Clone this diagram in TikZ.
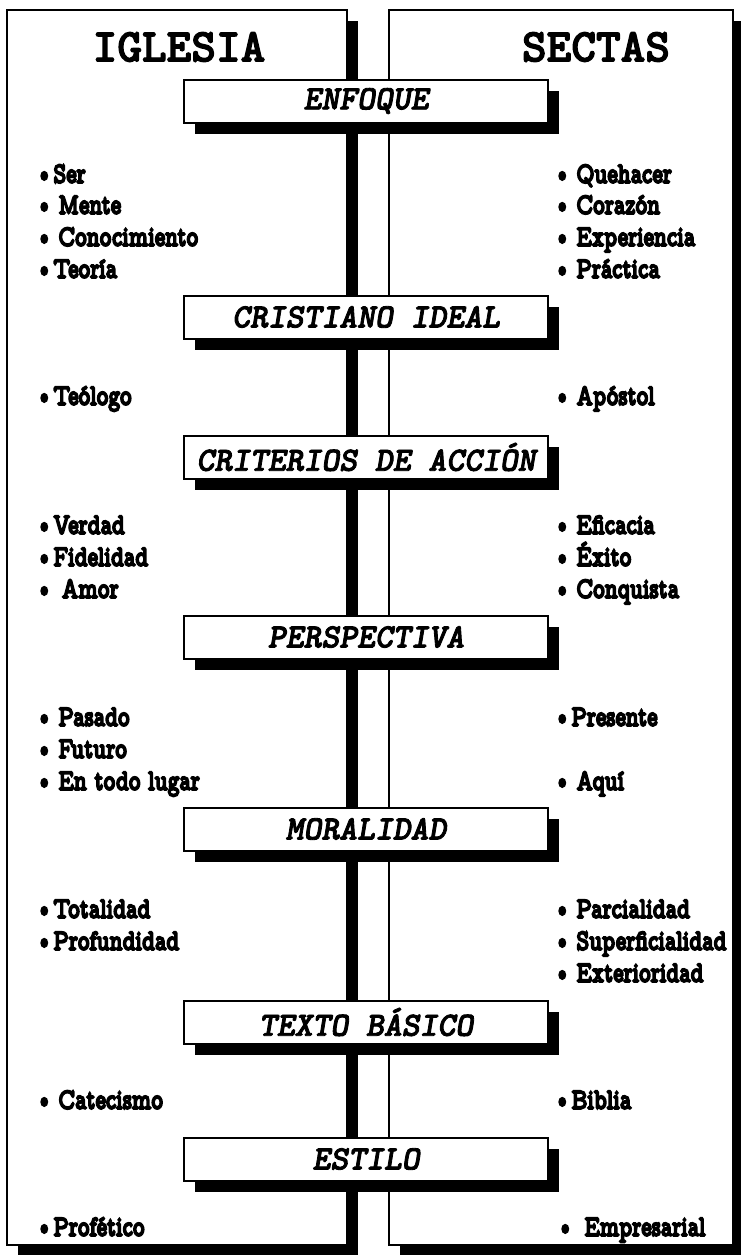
\documentclass[tikz,border=0pt]{standalone}
\usepackage{fontspec}
\setmainfont{Liberation Serif}
\newfontfamily\titlefont{lmmonolt10-bold.otf}[FakeBold=2.5]
\newfontfamily\tagfont{lmmonolt10-boldoblique.otf}[FakeBold=2.5]
\newfontfamily\itemfont{lmmonoproplt10-bold.otf}[FakeStretch=0.74,FakeBold=5]
\usetikzlibrary{shadows}
\newcommand{\bul}{\textbullet}
\tikzstyle{panel}=[draw,line width=2pt,fill=white,inner sep=0pt,
  general shadow={fill=black,shadow xshift=11pt,shadow yshift=-11pt}]
\tikzstyle{tag}=[panel,minimum width=364pt,minimum height=43pt,
  font=\tagfont\fontsize{34}{34}\selectfont]
\tikzstyle{title}=[font=\titlefont\fontsize{47}{47}\selectfont]
\tikzstyle{item}=[anchor=west,inner sep=0pt,text height=21pt,text depth=5pt,
  font=\itemfont\fontsize{30}{30}\selectfont]

\begin{document}
\begin{tikzpicture}[x=1pt,y=-1pt]
  \useasboundingbox (0,0) rectangle (740,1255);
  % the two columns
  \node[panel,minimum width=340pt,minimum height=1235pt] (iglesia) at (177,627.5) {};
  \node[panel,minimum width=344pt,minimum height=1235pt] (sectas) at (561,627.5) {};
  \node[title] (tIglesia) at (179,47) {IGLESIA};
  \node[title] (tSectas) at (596,47) {SECTAS};
  % headings down the middle
  \node[tag] (enfoque) at (366,101) {ENFOQUE};
  \node[tag] (ideal) at (366,317) {CRISTIANO IDEAL};
  \node[tag] (criterios) at (366,457) {CRITERIOS DE ACCIÓN};
  \node[tag] (perspectiva) at (366,637) {PERSPECTIVA};
  \node[tag] (moralidad) at (366,829) {MORALIDAD};
  \node[tag] (texto) at (366,1022) {TEXTO BÁSICO};
  \node[tag] (estilo) at (366,1159) {ESTILO};
  % left column
  \foreach \y/\t [count=\i] in {175/{\bul Ser},206/{\bul\,Mente},238/{\bul\,Conocimiento},
      270/{\bul Teoría},397/{\bul Teólogo},526/{\bul Verdad},558/{\bul Fidelidad},
      590/{\bul\;Amor},718/{\bul\,Pasado},750/{\bul\,Futuro},782/{\bul\,En todo lugar},
      910/{\bul Totalidad},942/{\bul Profundidad},1101/{\bul\,Catecismo},1228/{\bul Profético}}
    \node[item] (l\i) at (35,\y) {\t};
  % right column
  \foreach \y/\t [count=\i] in {175/{\bul\,Quehacer},206/{\bul\,Corazón},238/{\bul\,Experiencia},
      270/{\bul\,Práctica},397/{\bul\,Apóstol},526/{\bul\,Eficacia},558/{\bul\,Éxito},
      590/{\bul\,Conquista},718/{\bul Presente},782/{\bul\,Aquí},910/{\bul\,Parcialidad},
      942/{\bul\,Superficialidad},974/{\bul\,Exterioridad},1101/{\bul Biblia}}
    \node[item] (r\i) at (553,\y) {\t};
  \node[item] (r15) at (556,1228) {\bul\,\,Empresarial};
\end{tikzpicture}
\end{document}
